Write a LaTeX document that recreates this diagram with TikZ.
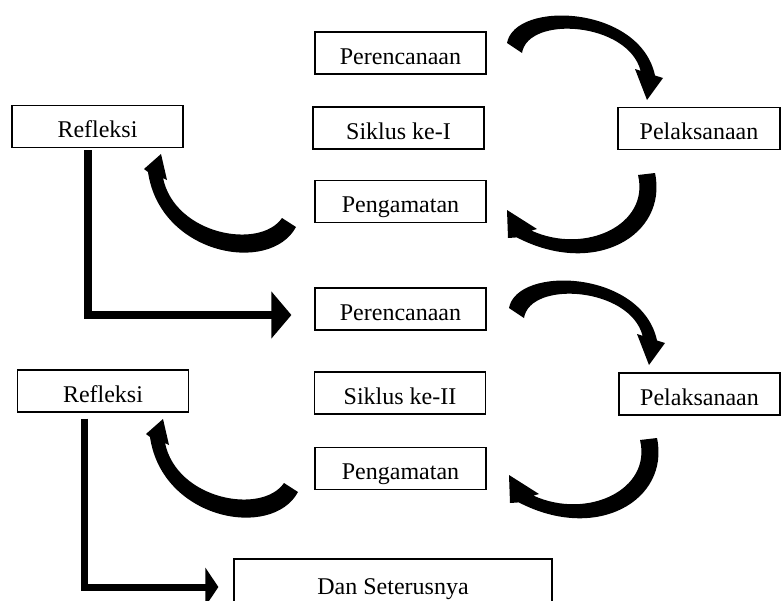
\documentclass[tikz,border=0pt]{standalone}
\usepackage{fontspec}
\setmainfont{Liberation Serif}
\usetikzlibrary{arrows.meta}

\begin{document}
\begin{tikzpicture}[
  x=0.5pt, y=-0.5pt,
  box/.style={rectangle, draw=black, line width=0.6pt,
              minimum width=85.5pt, minimum height=21pt,
              text height=11pt, text depth=0pt, inner sep=0pt,
              font=\fontsize{12}{14}\selectfont},
  curve/.style={fill=black},
  elbow/.style={line width=4pt, -{Triangle[length=10pt, width=23pt]}},
  elbowb/.style={line width=3.5pt, -{Triangle[length=6.5pt, width=19pt]}}
]
\useasboundingbox (0,0) rectangle (781,600);
\clip (0,0) rectangle (781,600);

% Siklus ke-I
\node[box] (per1) at (400.5,53) {Perencanaan};
\node[box] (sik1) at (398.5,128) {Siklus ke-I};
\node[box] (pen1) at (400.5,201.5) {Pengamatan};
\node[box] (refl1) at (97.5,126.5) {Refleksi};
\node[box, minimum width=81pt] (pel1) at (699,128.5) {Pelaksanaan};

% Siklus ke-II
\node[box] (per2) at (400.5,309) {Perencanaan};
\node[box] (sik2) at (400,393) {Siklus ke-II};
\node[box] (pen2) at (400.5,468.5) {Pengamatan};
\node[box] (refl2) at (103,391) {Refleksi};
\node[box, minimum width=80.5pt] (pel2) at (699.5,394) {Pelaksanaan};

% End
\node[box, minimum width=159pt, minimum height=24pt] (dan) at (393,583) {Dan Seterusnya};

% Curved arrows of each cycle
\foreach \sx/\sy in {0/0, 2/265} {
  \begin{scope}[shift={(\sx,\sy)}]
    % perencanaan -> pelaksanaan
    \fill[curve] (507,43) .. controls (515,0) and (640,5) .. (655,75.5)
      -- (663,78) -- (647,100) -- (635,69) -- (640.6,70.8)
      .. controls (628,22) and (528,15) .. (522,53) -- cycle;
    % pelaksanaan -> pengamatan
    \fill[curve] (655,173) .. controls (668,235) and (595,278) .. (516.8,237.4)
      -- (508,238) -- (507,210) -- (537,229) -- (531.4,230.6)
      .. controls (585,255) and (650,225) .. (638,175) -- cycle;
    % pengamatan -> refleksi
    \fill[curve] (296,227) .. controls (270,275) and (160,255) .. (148,172)
      -- (144,169) -- (161,154) -- (167,180) -- (163,178)
      .. controls (175,235) and (260,250) .. (282,218) -- cycle;
  \end{scope}
}

% Arrows to next cycle
\draw[elbow] ([xshift=-4.75pt, yshift=-1pt]refl1.south) |- ([xshift=-11.5pt, yshift=-3pt]per2.west);
\draw[elbowb] ([xshift=-9.5pt, yshift=-3pt]refl2.south) |- ([xshift=-7.5pt, yshift=-2pt]dan.west);
\end{tikzpicture}
\end{document}
